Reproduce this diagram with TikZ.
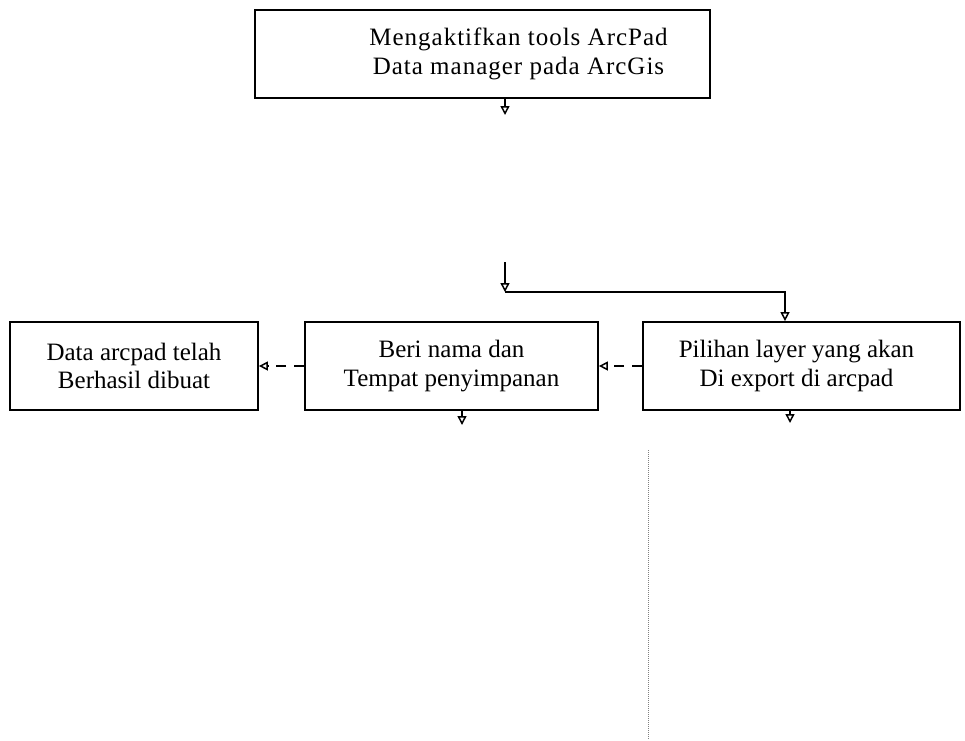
\documentclass[tikz,border=0pt]{standalone}
\usepackage{fontspec}
\setmainfont{Liberation Serif}
\usetikzlibrary{arrows.meta}
\begin{document}
\begin{tikzpicture}[x=1pt,y=-1pt,
  box/.style={draw=black, line width=1.8pt, inner sep=0pt, align=center,
    font=\fontsize{25}{28.5}\selectfont},
  conn/.style={draw=black, line width=1.3pt},
  arr/.style={conn, -{Triangle[open, length=9pt, width=9pt, line width=1.5pt]}}
]
\useasboundingbox (0,0) rectangle (965,740);

\node[box, minimum width=455pt, minimum height=88pt] (top) at (482.5,54)
  {\hspace*{72pt}{\addfontfeature{LetterSpace=4}Mengaktifkan tools ArcPad}\\\hspace*{72pt}{\addfontfeature{LetterSpace=4}Data manager pada ArcGis}};
\node[box, minimum width=317pt, minimum height=88pt] (right) at (801.5,366)
  {\hspace*{-10pt}Pilihan layer yang akan\\\hspace*{-10pt}Di export di arcpad};
\node[box, minimum width=293pt, minimum height=88pt] (mid) at (451.5,366)
  {Beri nama dan\\Tempat penyimpanan};
\node[box, minimum width=248pt, minimum height=88pt] (left) at (134,366)
  {Data arcpad telah\\Berhasil dibuat};

% connectors
\coordinate (a1) at (505,98);
\coordinate (a2) at (505,115);
\draw[arr] (a1) -- (a2);
\coordinate (b1) at (505,262);
\coordinate (b2) at (505,292);
\coordinate (b3) at (785,292);
\draw[arr] (b1) -- (b2);
\draw[arr] (b2) -- (b3) -- (right.north -| b3);
\draw[arr, dash pattern=on 10pt off 8pt] (right.west) -- (mid.east);
\draw[arr, dash pattern=on 10pt off 8pt] (mid.west) -- (left.east);
\coordinate (m1) at (462,425);
\draw[arr] (mid.south -| m1) -- (m1);
\coordinate (r1) at (790,423);
\draw[arr] (right.south -| r1) -- (r1);

% faint dotted line below the right box
\coordinate (d1) at (648,450);
\coordinate (d2) at (648,740);
\draw[gray, densely dotted, line width=1pt] (d1) -- (d2);
\end{tikzpicture}
\end{document}
